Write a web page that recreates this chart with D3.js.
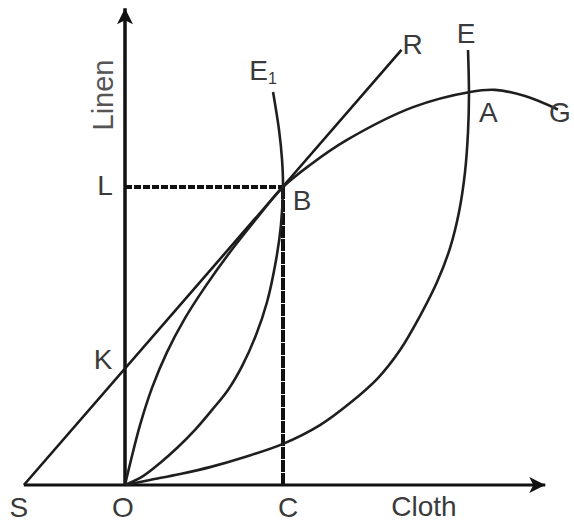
<!DOCTYPE html>
<html>
<head>
<meta charset="utf-8">
<script src="https://cdn.jsdelivr.net/npm/d3@7"></script>
<style>
  body { margin: 0; background: #fff; }
  text { font-family: "Liberation Sans", Arial, sans-serif; }
</style>
</head>
<body>
<div id="chart"></div>
<script>
// cloth on x, linen on y; B sits at (10, 10) in these units
const clothExtent = [-6.4, 26.6];
const linenExtent = [0, 16];

// terms-of-trade line S -> R, passes K and B
const lineSR = [[-6.4, 0], [17.5, 14.6]];

// offer curve O-B-A-G
const curveOBAG = [[0, 0], [0.38, 0.84], [0.95, 2.01], [1.71, 3.26], [2.66, 4.46], [3.8, 5.6],
                   [5.06, 6.64], [6.65, 7.82], [8.35, 8.96], [10, 10], [11.71, 10.74], [14.05, 11.58],
                   [18.23, 12.68], [21.84, 13.19], [23.42, 13.26], [25.32, 13.05], [27.4, 12.6]];
// curve O-B-E1
const curveOE1 = [[0, 0], [1.14, 0.3], [2.22, 0.74], [3.29, 1.24], [4.43, 1.85], [5.51, 2.52],
                  [6.52, 3.19], [7.41, 3.99], [8.29, 5.03], [8.99, 6.14], [9.56, 7.55], [9.87, 8.72],
                  [10, 10], [9.94, 10.91], [9.75, 11.91], [9.37, 13.19]];
// curve O-A-E
const curveOAE = [[0, 0], [1.58, 0.17], [3.48, 0.37], [5.38, 0.6], [7.59, 0.94], [10, 1.38],
                  [12.34, 2.01], [14.24, 2.75], [16.01, 3.59], [17.41, 4.53], [18.67, 5.67],
                  [19.75, 6.81], [20.57, 7.95], [21.14, 9.16], [21.52, 10.5], [21.71, 11.85],
                  [21.77, 13.09], [21.71, 14.6]];

const pointNames = ["S", "O", "C", "K", "L", "B", "R", "E", "A", "G", "E1"];
const pointValues = [[-6.4, 0], [0, 0], [10, 0], [0, 3.9], [0, 10], [10, 10],
                     [17.5, 14.6], [21.71, 14.6], [21.8, 13.15], [27.4, 12.6], [9.37, 13.2]];
const axisTitles = ["Cloth", "Linen"];

const width = 574, height = 524;
const svg = d3.select("#chart").append("svg").attr("width", width).attr("height", height);

const x = d3.scaleLinear().domain([0, 10]).range([125, 283]);
const y = d3.scaleLinear().domain([0, 10]).range([485, 187]);
const pt = d => [x(d[0]), y(d[1])];

// arrow heads
svg.append("defs").append("marker").attr("id", "arr")
    .attr("viewBox", "0 0 20 20").attr("refX", 18).attr("refY", 10)
    .attr("markerWidth", 20).attr("markerHeight", 20)
    .attr("markerUnits", "userSpaceOnUse").attr("orient", "auto")
    .append("path").attr("d", "M2,2 L18,10 L2,18 L6,10 Z").attr("fill", "#111");

// axes
svg.append("line")
    .attr("x1", x(clothExtent[0])).attr("y1", y(0))
    .attr("x2", x(clothExtent[1])).attr("y2", y(0))
    .attr("stroke", "#111").attr("stroke-width", 3).attr("marker-end", "url(#arr)");
svg.append("line")
    .attr("x1", x(0)).attr("y1", y(0))
    .attr("x2", x(0)).attr("y2", y(linenExtent[1]))
    .attr("stroke", "#111").attr("stroke-width", 3.5).attr("marker-end", "url(#arr)");

const P = {};
pointNames.forEach((n, i) => P[n] = pointValues[i]);

// dotted guides L-B and C-B
svg.append("line")
    .attr("x1", x(P.L[0])).attr("y1", y(P.L[1])).attr("x2", x(P.B[0])).attr("y2", y(P.B[1]))
    .attr("stroke", "#111").attr("stroke-width", 4).attr("stroke-dasharray", "7,2");
svg.append("line")
    .attr("x1", x(P.C[0])).attr("y1", y(P.C[1])).attr("x2", x(P.B[0])).attr("y2", y(P.B[1]))
    .attr("stroke", "#111").attr("stroke-width", 4).attr("stroke-dasharray", "12,1");

// S-R line
svg.append("path").datum(lineSR)
    .attr("d", d3.line().x(d => x(d[0])).y(d => y(d[1])))
    .attr("fill", "none").attr("stroke", "#1a1a1a").attr("stroke-width", 2.6);

// curves
const curve = d3.line().x(d => x(d[0])).y(d => y(d[1])).curve(d3.curveCatmullRom.alpha(0.5));
[curveOBAG, curveOE1, curveOAE].forEach(c => {
    svg.append("path").datum(c).attr("d", curve)
        .attr("fill", "none").attr("stroke", "#1f1f1f").attr("stroke-width", 2.6);
});

// point labels, offsets in px from each point
const labelOffset = {
    S: [-5, 32], O: [-2, 32], C: [5, 32], K: [-22, 0], L: [-20, 8], B: [19, 23],
    R: [11, 4], E: [-2, -7], A: [19, 29], G: [2, 12], E1: [-10, -12]
};
const fontSize = 28;
pointNames.forEach(n => {
    const [px, py] = pt(P[n]);
    const [dx, dy] = labelOffset[n];
    const t = svg.append("text")
        .attr("x", px + dx).attr("y", py + dy)
        .attr("text-anchor", "middle")
        .attr("font-size", fontSize).attr("fill", "#3a3a3a");
    if (n === "E1") {
        t.append("tspan").text("E");
        t.append("tspan").attr("font-size", 16).attr("dy", 4).text("1");
    } else {
        t.text(n);
    }
});

// axis titles
svg.append("text")
    .attr("x", 424).attr("y", y(0) + 31)
    .attr("text-anchor", "middle").attr("font-size", fontSize).attr("fill", "#3a3a3a")
    .text(axisTitles[0]);
svg.append("text")
    .attr("transform", `translate(${x(0) - 12},95) rotate(-90)`)
    .attr("text-anchor", "middle").attr("font-size", 29).attr("fill", "#555")
    .text(axisTitles[1]);
</script>
</body>
</html>
